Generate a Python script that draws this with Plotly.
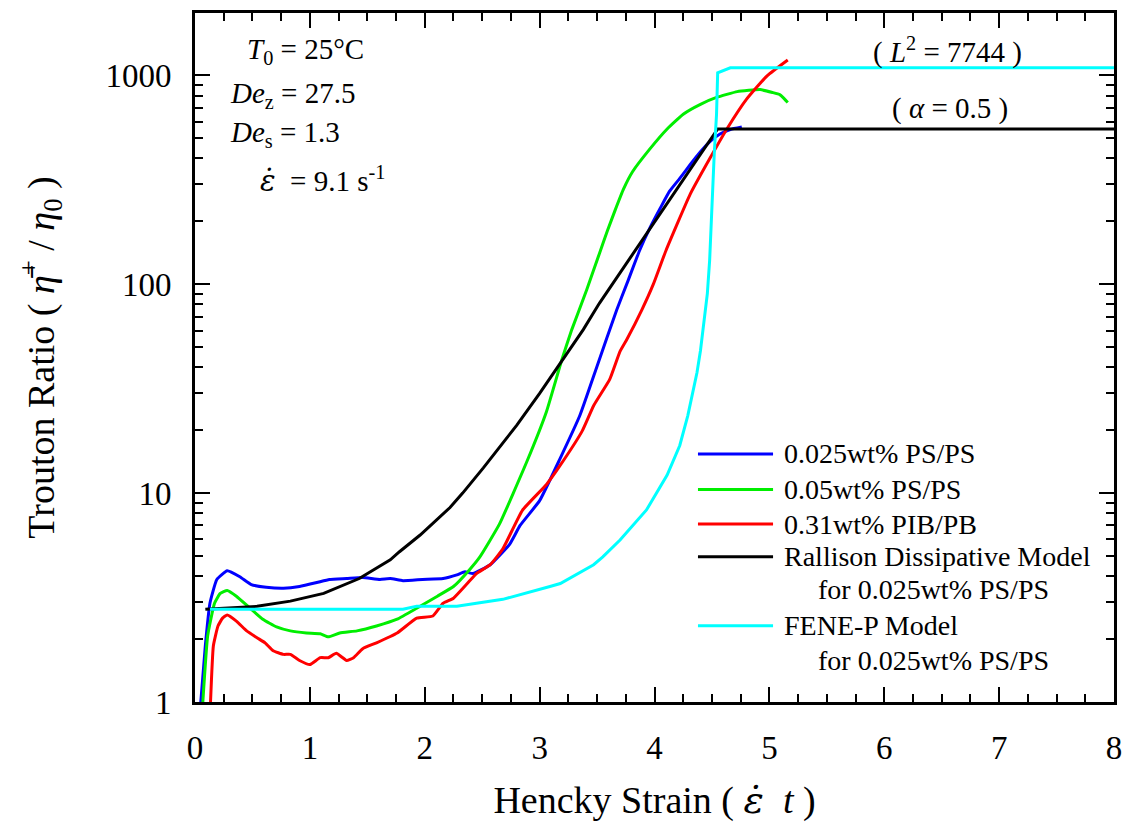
import plotly.graph_objects as go

# ---------------- data ----------------
ps025_x = [0.04, 0.09, 0.13, 0.19, 0.28, 0.39, 0.49, 0.62, 0.77, 0.91, 1.06, 1.17, 1.32, 1.46,
           1.61, 1.70, 1.81, 1.98, 2.16, 2.28, 2.35, 2.42, 2.57, 2.74, 2.83, 3.00, 3.18, 3.35,
           3.50, 3.67, 3.77, 3.87, 3.96, 4.05, 4.13, 4.22, 4.31, 4.40, 4.48, 4.57, 4.66, 4.76]
ps025_y = [0.85, 1.86, 2.97, 3.86, 4.25, 3.98, 3.65, 3.54, 3.50, 3.57, 3.73, 3.86, 3.90, 3.94,
           3.86, 3.90, 3.81, 3.86, 3.90, 4.06, 4.20, 4.12, 4.54, 5.7, 7.0, 9.2, 14.7, 23.5,
           40.5, 75, 104, 145, 186, 231, 278, 321, 373, 430, 480, 523, 550, 565]

ps05_x = [0.06, 0.11, 0.17, 0.22, 0.28, 0.36, 0.48, 0.59, 0.71, 0.83, 0.97, 1.09, 1.16, 1.26,
          1.41, 1.58, 1.76, 1.93, 2.11, 2.25, 2.39, 2.48, 2.65, 2.89, 3.06, 3.19, 3.28, 3.41,
          3.52, 3.59, 3.66, 3.73, 3.81, 3.96, 4.11, 4.25, 4.40, 4.54, 4.72, 4.92, 5.03, 5.09,
          5.12, 5.16]
ps05_y = [0.85, 2.07, 2.97, 3.31, 3.42, 3.21, 2.81, 2.49, 2.29, 2.19, 2.14, 2.12, 2.05, 2.14,
          2.19, 2.31, 2.49, 2.81, 3.21, 3.57, 4.30, 4.95, 7.1, 14.2, 24.6, 42.9, 60.6, 94,
          140, 180, 228, 285, 346, 444, 553, 651, 726, 783, 835, 854, 826, 808, 782, 741]

pib_x = [0.13, 0.16, 0.20, 0.24, 0.28, 0.36, 0.45, 0.54, 0.61, 0.68, 0.77, 0.83, 0.91, 1.00,
         1.09, 1.16, 1.23, 1.32, 1.38, 1.46, 1.58, 1.76, 1.93, 2.07, 2.16, 2.25, 2.37, 2.45,
         2.57, 2.68, 2.85, 3.06, 3.18, 3.37, 3.47, 3.61, 3.70, 3.76, 3.89, 3.99, 4.10, 4.31,
         4.48, 4.63, 4.80, 4.98, 5.16]
pib_y = [0.85, 1.86, 2.31, 2.52, 2.61, 2.44, 2.19, 2.03, 1.92, 1.76, 1.69, 1.69, 1.58, 1.51,
         1.63, 1.63, 1.71, 1.58, 1.63, 1.80, 1.92, 2.14, 2.52, 2.58, 2.97, 3.14, 3.69, 4.12,
         4.54, 5.41, 8.27, 11.0, 13.6, 19.8, 26.2, 35, 47.7, 54.5, 75.4, 100, 145, 269,
         398, 553, 766, 994, 1184]

rallison_x = [0.09, 0.54, 0.83, 1.12, 1.43, 1.70, 1.78, 1.96, 2.22, 2.33, 2.51, 2.80, 3.00,
              3.19, 3.38, 3.52, 3.85, 3.96, 4.55, 8.00]
rallison_y = [2.78, 2.87, 3.04, 3.31, 3.90, 4.79, 5.24, 6.3, 8.53, 10.0, 13.2, 21.1, 30.0,
              42.9, 60.6, 81, 150, 186, 553, 553]

fene_x = [0.13, 1.81, 1.93, 2.28, 2.45, 2.68, 3.09, 3.18, 3.47, 3.55, 3.70, 3.93, 4.11, 4.22,
          4.29, 4.37, 4.40, 4.43, 4.46, 4.48, 4.50, 4.52, 4.54, 4.55, 4.66, 8.00]
fene_y = [2.78, 2.78, 2.87, 2.87, 2.97, 3.10, 3.57, 3.69, 4.54, 4.95, 5.96, 8.3, 12.2, 16.9,
          23.5, 37.8, 48, 68, 90, 130, 250, 420, 650, 1028, 1085, 1085]

series_names = ["0.025wt% PS/PS", "0.05wt% PS/PS", "0.31wt% PIB/PB",
                "Rallison Dissipative Model", "FENE-P Model"]
series_sub = ["", "", "", "for 0.025wt% PS/PS", "for 0.025wt% PS/PS"]
series_colors = ["#0000FF", "#00EE00", "#FF0000", "#000000", "#00FFFF"]
series_shape = ["spline", "spline", "spline", "linear", "linear"]

x_ticks = [0, 1, 2, 3, 4, 5, 6, 7, 8]
y_ticks = [1, 10, 100, 1000]
y_ticktext = ["1", "10", "100", "1000"]

FONT = "Liberation Serif, Times New Roman, serif"
EPSDOT = '<span style="font-family:DejaVu Serif"><i>ε̇</i></span>'

# ---------------- figure ----------------
fig = go.Figure()
all_x = [ps025_x, ps05_x, pib_x, rallison_x, fene_x]
all_y = [ps025_y, ps05_y, pib_y, rallison_y, fene_y]
for xs, ys, name, col, shp in zip(all_x, all_y, series_names, series_colors, series_shape):
    line = dict(color=col, width=3, shape=shp)
    if shp == "spline":
        line["smoothing"] = 0.4
    fig.add_trace(go.Scatter(x=xs, y=ys, mode="lines", name=name, line=line,
                             showlegend=False))

# manual legend (paper coordinates)
leg_rows = [0.3601, 0.3085, 0.2582, 0.2109, 0.1105]
leg_sub_rows = [None, None, None, 0.1636, 0.0603]
for i, (name, sub, col) in enumerate(zip(series_names, series_sub, series_colors)):
    yy = leg_rows[i]
    fig.add_shape(type="line", xref="paper", yref="paper", x0=0.5473, x1=0.629,
                  y0=yy, y1=yy, line=dict(color=col, width=3))
    fig.add_annotation(xref="paper", yref="paper", x=0.6387, y=yy, text=name,
                       showarrow=False, xanchor="left", yanchor="middle",
                       font=dict(family=FONT, size=28, color="black"))
    if sub:
        fig.add_annotation(xref="paper", yref="paper", x=0.6757, y=leg_sub_rows[i],
                           text=sub, showarrow=False, xanchor="left", yanchor="middle",
                           font=dict(family=FONT, size=28, color="black"))

# condition annotations
cond = [
    ("<i>T</i><sub>0</sub> = 25°C", 0.0544, 0.945),
    ("<i>De</i><sub>z</sub> = 27.5", 0.0359, 0.881),
    ("<i>De</i><sub>s</sub> = 1.3", 0.0359, 0.824),
    (EPSDOT + "  = 9.1 s<sup>-1</sup>", 0.0686, 0.759),
]
for txt, xx, yy in cond:
    fig.add_annotation(xref="paper", yref="paper", x=xx, y=yy, text=txt, showarrow=False,
                       xanchor="left", yanchor="middle",
                       font=dict(family=FONT, size=29, color="black"))

fig.add_annotation(xref="paper", yref="paper", x=0.819, y=0.945,
                   text="( <i>L</i><sup>2</sup> = 7744 )", showarrow=False,
                   xanchor="center", yanchor="middle",
                   font=dict(family=FONT, size=29, color="black"))
fig.add_annotation(xref="paper", yref="paper", x=0.822, y=0.861,
                   text="( <i>α</i> = 0.5 )", showarrow=False,
                   xanchor="center", yanchor="middle",
                   font=dict(family=FONT, size=29, color="black"))

fig.update_layout(
    width=1133, height=824,
    margin=dict(l=195, r=19, t=10, b=117),
    paper_bgcolor="white", plot_bgcolor="white",
    font=dict(family=FONT, color="black"),
    showlegend=False,
)
fig.update_xaxes(
    range=[0, 8], tickvals=x_ticks, ticks="inside", ticklen=15, tickwidth=2,
    tickcolor="black", showline=True, linecolor="black", linewidth=3, mirror="allticks",
    showgrid=False, zeroline=False,
    tickfont=dict(family=FONT, size=33, color="black"), ticklabelstandoff=14,
    minor=dict(dtick=0.25, ticks="inside", ticklen=8, tickwidth=2, tickcolor="black",
               showgrid=False),
    title=dict(text="Hencky Strain ( " + EPSDOT + "  <i>t</i> )",
               font=dict(family=FONT, size=38, color="black"), standoff=22),
)
fig.update_yaxes(
    type="log", range=[0, 3.298], tickvals=y_ticks, ticktext=y_ticktext,
    ticks="inside", ticklen=15, tickwidth=2, tickcolor="black",
    showline=True, linecolor="black", linewidth=3, mirror="allticks",
    showgrid=False, zeroline=False,
    tickfont=dict(family=FONT, size=33, color="black"), ticklabelstandoff=14,
    minor=dict(dtick="D1", ticks="inside", ticklen=8, tickwidth=2, tickcolor="black",
               showgrid=False),
    title=dict(text="Trouton Ratio ( <i>η̄</i><sup>+</sup> / <i>η</i><sub>0</sub> )",
               font=dict(family=FONT, size=38, color="black"), standoff=40),
)

fig.write_html("out.html")
